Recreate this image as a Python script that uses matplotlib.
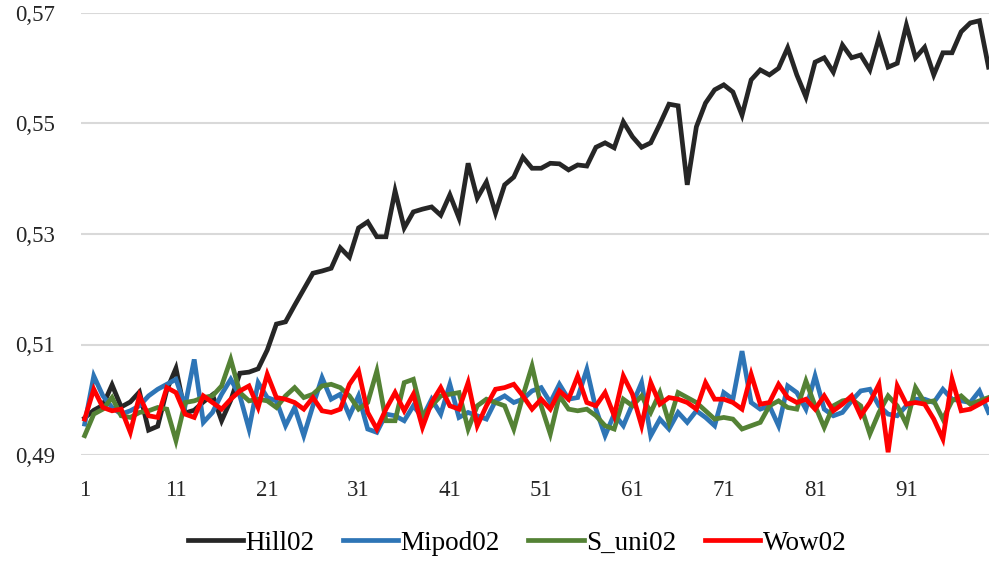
import numpy as np
import matplotlib
matplotlib.use("Agg")
import matplotlib.pyplot as plt

# valori (100 iterazioni)
x = np.arange(1, 101)

hill02 = [
    0.4967, 0.4981, 0.4990, 0.5027, 0.4987, 0.4996, 0.5014, 0.4945, 0.4952, 0.5018,
    0.5057, 0.4976, 0.4981, 0.4996, 0.5009, 0.4962, 0.4999, 0.5048, 0.5050, 0.5056,
    0.5090, 0.5137, 0.5141, 0.5171, 0.5200, 0.5229, 0.5233, 0.5238, 0.5275, 0.5258,
    0.5311, 0.5322, 0.5295, 0.5295, 0.5378, 0.5311, 0.5340, 0.5345, 0.5349, 0.5334,
    0.5371, 0.5329, 0.5428, 0.5365, 0.5394, 0.5338, 0.5389, 0.5403, 0.5439, 0.5419,
    0.5419, 0.5428, 0.5427, 0.5416, 0.5425, 0.5423, 0.5457, 0.5465, 0.5456, 0.5503,
    0.5476, 0.5457, 0.5465, 0.5499, 0.5535, 0.5532, 0.5389, 0.5494, 0.5537, 0.5561,
    0.5570, 0.5557, 0.5515, 0.5579, 0.5597, 0.5588, 0.5600, 0.5637, 0.5588, 0.5548,
    0.5611, 0.5619, 0.5593, 0.5642, 0.5619, 0.5624, 0.5597, 0.5655, 0.5602, 0.5609,
    0.5678, 0.5619, 0.5638, 0.5588, 0.5628, 0.5628, 0.5666, 0.5682, 0.5686, 0.5602,
]

mipod02 = [
    0.4956, 0.5043, 0.5007, 0.4986, 0.4974, 0.4980, 0.4989, 0.5007, 0.5019, 0.5028,
    0.5037, 0.4989, 0.5073, 0.4959, 0.4977, 0.5010, 0.5037, 0.5007, 0.4947, 0.5031,
    0.5004, 0.4998, 0.4953, 0.4986, 0.4935, 0.4989, 0.5040, 0.5001, 0.5010, 0.4971,
    0.5007, 0.4947, 0.4941, 0.4974, 0.4971, 0.4962, 0.4989, 0.4968, 0.5001, 0.4974,
    0.5028, 0.4968, 0.4977, 0.4971, 0.4965, 0.4998, 0.5007, 0.4995, 0.5001, 0.5016,
    0.5022, 0.4995, 0.5028, 0.5001, 0.5004, 0.5055, 0.4983, 0.4935, 0.4974, 0.4953,
    0.4992, 0.5031, 0.4935, 0.4965, 0.4947, 0.4977, 0.4959, 0.4980, 0.4968, 0.4953,
    0.5013, 0.5001, 0.5088, 0.4995, 0.4983, 0.4989, 0.4953, 0.5025, 0.5013, 0.4983,
    0.5043, 0.4983, 0.4971, 0.4977, 0.4998, 0.5016, 0.5019, 0.4989, 0.4974, 0.4971,
    0.4989, 0.5001, 0.5001, 0.4995, 0.5019, 0.5001, 0.4998, 0.4995, 0.5016, 0.4977,
]

s_uni02 = [
    0.4935, 0.4974, 0.4983, 0.5004, 0.4971, 0.4968, 0.4977, 0.4980, 0.4986, 0.4983,
    0.4926, 0.4995, 0.4998, 0.5004, 0.5007, 0.5025, 0.5073, 0.5013, 0.4998, 0.5001,
    0.4998, 0.4986, 0.5007, 0.5022, 0.5004, 0.5010, 0.5025, 0.5028, 0.5022, 0.5007,
    0.4983, 0.4995, 0.5052, 0.4962, 0.4962, 0.5031, 0.5037, 0.4971, 0.4989, 0.5007,
    0.5010, 0.5013, 0.4947, 0.4989, 0.5001, 0.4995, 0.4989, 0.4947, 0.5007, 0.5061,
    0.4989, 0.4938, 0.5007, 0.4983, 0.4980, 0.4983, 0.4971, 0.4953, 0.4947, 0.5001,
    0.4989, 0.5007, 0.4977, 0.5013, 0.4959, 0.5013, 0.5004, 0.4995, 0.4980, 0.4965,
    0.4968, 0.4965, 0.4947, 0.4953, 0.4959, 0.4989, 0.4998, 0.4986, 0.4983, 0.5034,
    0.4989, 0.4950, 0.4989, 0.4998, 0.5001, 0.4989, 0.4938, 0.4977, 0.5007, 0.4989,
    0.4956, 0.5022, 0.4995, 0.4998, 0.4965, 0.4998, 0.5007, 0.4992, 0.4998, 0.5004,
]

wow02 = [
    0.4965, 0.5019, 0.4986, 0.4980, 0.4983, 0.4941, 0.5007, 0.4971, 0.4968, 0.5022,
    0.5013, 0.4974, 0.4968, 0.5007, 0.4995, 0.4983, 0.5001, 0.5016, 0.5025, 0.4986,
    0.5046, 0.5004, 0.5001, 0.4995, 0.4983, 0.5004, 0.4980, 0.4977, 0.4983, 0.5028,
    0.5052, 0.4977, 0.4947, 0.4983, 0.5013, 0.4980, 0.5010, 0.4950, 0.4995, 0.5022,
    0.4989, 0.4983, 0.5031, 0.4953, 0.4989, 0.5019, 0.5022, 0.5028, 0.5007, 0.4983,
    0.5001, 0.4983, 0.5016, 0.5001, 0.5043, 0.4995, 0.4989, 0.5013, 0.4971, 0.5043,
    0.5010, 0.4953, 0.5031, 0.4992, 0.5004, 0.5001, 0.4995, 0.4983, 0.5031, 0.5001,
    0.5001, 0.4995, 0.4983, 0.5046, 0.4992, 0.4995, 0.5028, 0.5004, 0.4995, 0.5001,
    0.4983, 0.5007, 0.4980, 0.4992, 0.5007, 0.4971, 0.4995, 0.5028, 0.4905, 0.5025,
    0.4992, 0.4995, 0.4992, 0.4965, 0.4929, 0.5037, 0.4980, 0.4983, 0.4992, 0.5001,
]

serie = [
    ("Hill02", hill02, "#262626"),
    ("Mipod02", mipod02, "#2e75b6"),
    ("S_uni02", s_uni02, "#548235"),
    ("Wow02", wow02, "#ff0000"),
]

plt.rcParams['font.family'] = ['Liberation Serif', 'DejaVu Serif']

fig = plt.figure(figsize=(9.89, 5.63), dpi=100)
ax = fig.add_axes([81 / 989, 1 - 455 / 563, 1 - 81 / 989, (455 - 13) / 563])

for nome, valori, colore in serie:
    ax.plot(x, valori, color=colore, lw=3.4, label=nome,
            solid_joinstyle='miter', clip_on=False)

ax.set_xlim(0.6, 100.05)
ax.set_ylim(0.49, 0.57)
ax.set_yticks([0.49, 0.51, 0.53, 0.55, 0.57])
ax.set_yticklabels(["0,49", "0,51", "0,53", "0,55", "0,57"])
ax.set_xticks(np.arange(1, 101, 10))
ax.grid(axis='y', color='#d9d9d9', lw=1.5)
ax.set_axisbelow(True)
for s in ax.spines.values():
    s.set_visible(False)
ax.tick_params(length=0, labelsize=16.5, colors='#262626')
ax.tick_params(axis='y', pad=18.5)
ax.tick_params(axis='x', pad=18)

fig.legend(loc='center', bbox_to_anchor=(517 / 989, 1 - 543 / 563), ncol=4,
           frameon=False, fontsize=19.5, handlelength=2.05, handletextpad=0.08,
           columnspacing=1.05)

fig.savefig("out.png", dpi=100)
